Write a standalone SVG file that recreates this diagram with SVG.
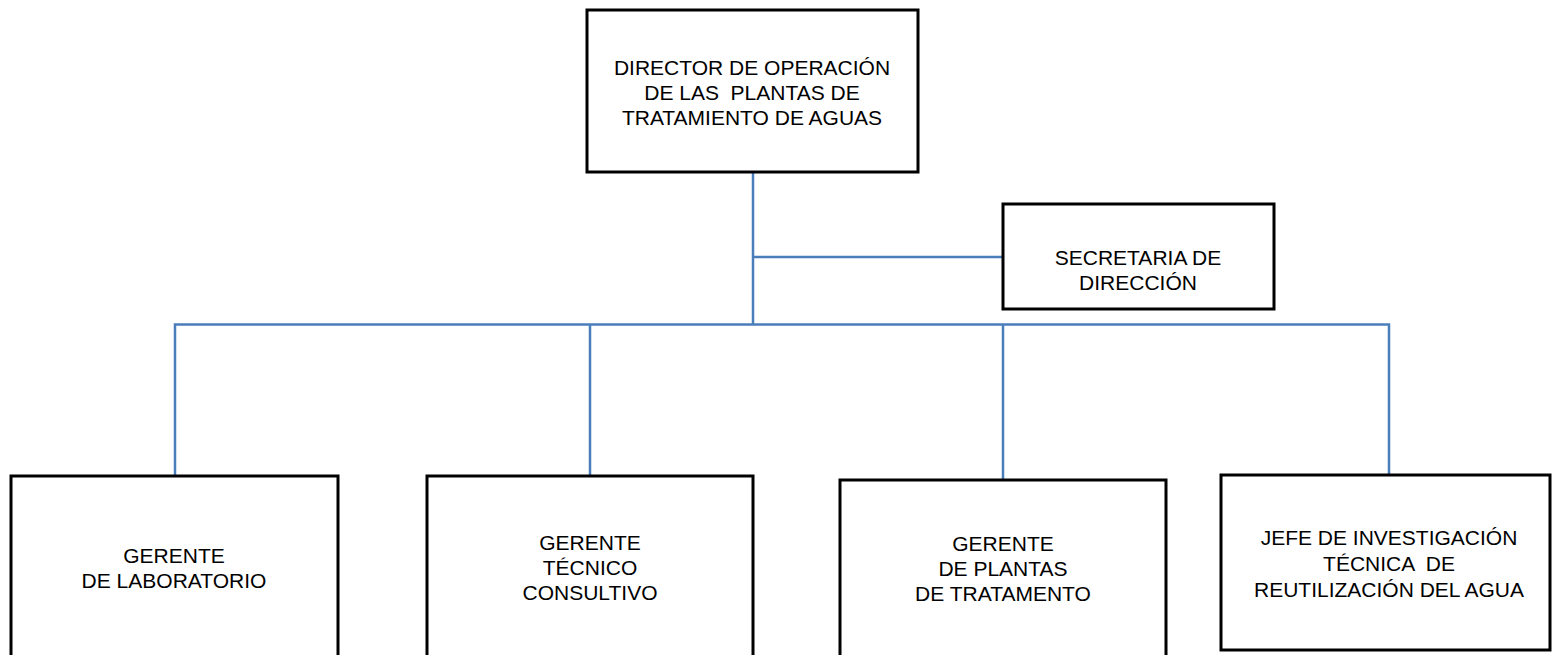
<svg xmlns="http://www.w3.org/2000/svg" width="1552" height="655" viewBox="0 0 1552 655">
<style>
.box{fill:#ffffff;stroke:#000000;stroke-width:3}
.lbl{font-family:"Liberation Sans",Arial,sans-serif;font-size:21px;fill:#000000;text-anchor:middle}
.con{fill:none;stroke:#4a7ebb;stroke-width:2.5}
</style>
<rect width="1552" height="655" fill="#ffffff"/>
<g id="connectors">
<path class="con" d="M753,172 V325"/>
<path class="con" d="M753,257 H1003"/>
<path class="con" d="M175,476 V324.5 H1389 V475"/>
<path class="con" d="M590,324.5 V476"/>
<path class="con" d="M1003,324.5 V480"/>
</g>
<g id="director">
<rect class="box" x="587" y="10" width="331" height="162"/>
<text class="lbl" x="752" y="75">DIRECTOR DE OPERACIÓN</text>
<text class="lbl" x="752" y="100" xml:space="preserve">DE LAS  PLANTAS DE</text>
<text class="lbl" x="752" y="125">TRATAMIENTO DE AGUAS</text>
</g>
<g id="secretaria">
<rect class="box" x="1003" y="204" width="271" height="105"/>
<text class="lbl" x="1138" y="265">SECRETARIA DE</text>
<text class="lbl" x="1138" y="290">DIRECCIÓN</text>
</g>
<g id="laboratorio">
<rect class="box" x="11" y="476" width="327" height="190"/>
<text class="lbl" x="174" y="563">GERENTE</text>
<text class="lbl" x="174" y="588">DE LABORATORIO</text>
</g>
<g id="tecnico">
<rect class="box" x="427" y="476" width="326" height="190"/>
<text class="lbl" x="590" y="550">GERENTE</text>
<text class="lbl" x="590" y="575">TÉCNICO</text>
<text class="lbl" x="590" y="600">CONSULTIVO</text>
</g>
<g id="plantas">
<rect class="box" x="840" y="480" width="326" height="190"/>
<text class="lbl" x="1003" y="551">GERENTE</text>
<text class="lbl" x="1003" y="576">DE PLANTAS</text>
<text class="lbl" x="1003" y="601">DE TRATAMENTO</text>
</g>
<g id="jefe">
<rect class="box" x="1221" y="475" width="329" height="175"/>
<text class="lbl" x="1389" y="545">JEFE DE INVESTIGACIÓN</text>
<text class="lbl" x="1389" y="571" xml:space="preserve">TÉCNICA  DE</text>
<text class="lbl" x="1389" y="597">REUTILIZACIÓN DEL AGUA</text>
</g>
</svg>
